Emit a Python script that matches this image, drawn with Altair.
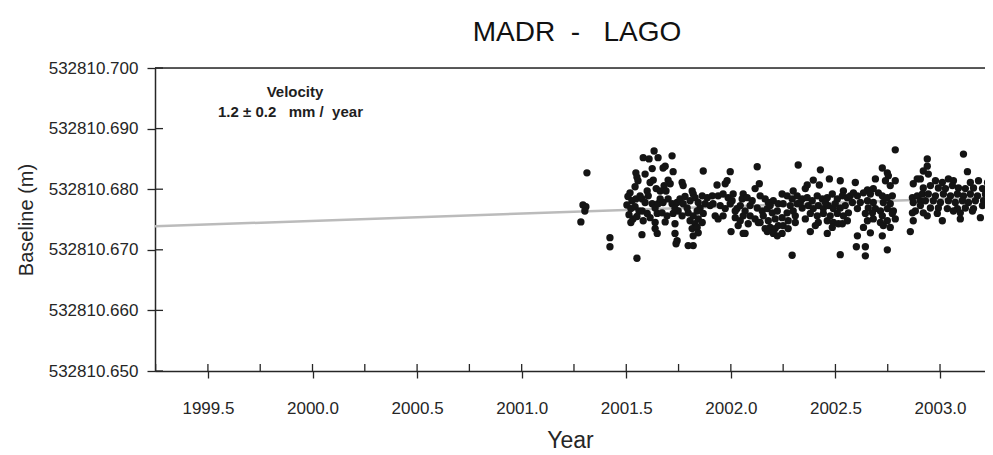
import altair as alt
import pandas as pd

# ---------------- data ----------------
# observation epochs (decimal year)
YEAR = [
    # isolated early points
    2001.312, 2001.293, 2001.307, 2001.302, 2001.283, 2001.422, 2001.422, 2001.551,
    # 2001.5 - 2001.57
    2001.546, 2001.551, 2001.556, 2001.542, 2001.518, 2001.508, 2001.527, 2001.546, 2001.566,
    2001.503, 2001.522, 2001.542, 2001.561, 2001.513, 2001.532, 2001.551, 2001.522, 2001.575,
    # 2001.57 - 2001.90
    2001.633, 2001.652, 2001.719, 2001.581, 2001.609, 2001.676, 2001.686, 2001.724, 2001.868, 2001.624,
    2001.590, 2001.629, 2001.614, 2001.700, 2001.710, 2001.767, 2001.772, 2001.815, 2001.820, 2001.681,
    2001.662, 2001.600, 2001.576, 2001.590, 2001.624, 2001.638, 2001.652, 2001.676, 2001.700, 2001.719,
    2001.743, 2001.757, 2001.772, 2001.791, 2001.805, 2001.829, 2001.863, 2001.887, 2001.877, 2001.853,
    2001.839, 2001.576, 2001.600, 2001.614, 2001.648, 2001.671, 2001.695, 2001.724, 2001.748, 2001.767,
    2001.796, 2001.820, 2001.844, 2001.868, 2001.581, 2001.638, 2001.686, 2001.733, 2001.805, 2001.829,
    2001.863, 2001.815, 2001.839, 2001.844, 2001.820, 2001.648, 2001.638, 2001.733, 2001.743, 2001.738,
    2001.796, 2001.820, 2001.605, 2001.662, 2001.733, 2001.781, 2001.844, 2001.901, 2001.690, 2001.643,
    # 2001.90 - 2002.23
    2001.997, 2002.126, 2001.934, 2001.973, 2001.982, 2002.136, 2002.116, 2001.911, 2001.939, 2001.963,
    2001.987, 2002.011, 2002.006, 2002.059, 2002.054, 2002.078, 2002.140, 2002.164, 2002.179, 2002.203,
    2002.227, 2001.915, 2001.949, 2001.973, 2001.997, 2002.030, 2002.045, 2002.068, 2002.092, 2002.126,
    2002.150, 2002.174, 2002.198, 2002.222, 2001.925, 2001.939, 2001.963, 2002.021, 2002.045, 2002.059,
    2002.092, 2002.116, 2002.131, 2002.155, 2002.179, 2002.212, 2002.035, 2002.083, 2002.164, 2002.188,
    2002.212, 2002.227, 2002.001, 2002.059, 2002.203, 2002.102, 2002.021, 2002.188, 2002.140, 2002.174,
    2002.222, 2002.068,
    # 2002.24 - 2002.57
    2002.322, 2002.428, 2002.394, 2002.423, 2002.471, 2002.523, 2002.365, 2002.356, 2002.538, 2002.298,
    2002.245, 2002.269, 2002.293, 2002.317, 2002.341, 2002.365, 2002.413, 2002.437, 2002.461, 2002.485,
    2002.509, 2002.533, 2002.557, 2002.250, 2002.284, 2002.317, 2002.341, 2002.370, 2002.394, 2002.418,
    2002.442, 2002.466, 2002.490, 2002.523, 2002.547, 2002.269, 2002.298, 2002.380, 2002.413, 2002.442,
    2002.475, 2002.509, 2002.538, 2002.562, 2002.245, 2002.274, 2002.418, 2002.461, 2002.490, 2002.514,
    2002.557, 2002.250, 2002.308, 2002.404, 2002.485, 2002.533, 2002.380, 2002.461, 2002.274, 2002.245,
    2002.293, 2002.523, 2002.332, 2002.389, 2002.452, 2002.499, 2002.308, 2002.356,
    # 2002.57 - 2002.91
    2002.786, 2002.724, 2002.748, 2002.753, 2002.691, 2002.739, 2002.786, 2002.595, 2002.762, 2002.872,
    2002.891, 2002.653, 2002.681, 2002.634, 2002.667, 2002.571, 2002.586, 2002.605, 2002.705, 2002.724,
    2002.748, 2002.772, 2002.868, 2002.891, 2002.581, 2002.619, 2002.653, 2002.681, 2002.729, 2002.762,
    2002.872, 2002.906, 2002.605, 2002.657, 2002.691, 2002.715, 2002.748, 2002.777, 2002.882, 2002.643,
    2002.677, 2002.724, 2002.772, 2002.868, 2002.653, 2002.681, 2002.715, 2002.748, 2002.786, 2002.872,
    2002.634, 2002.729, 2002.762, 2002.858, 2002.605, 2002.667, 2002.724, 2002.600, 2002.643, 2002.643,
    2002.748,
    # 2002.91 - 2003.25
    2003.112, 2002.939, 2002.939, 2002.920, 2002.944, 2003.131, 2002.906, 2002.978, 2003.011, 2003.040,
    2003.064, 2003.145, 2003.184, 2003.227, 2002.920, 2002.954, 2002.992, 2003.026, 2003.059, 2003.088,
    2003.121, 2003.160, 2003.203, 2003.241, 2002.916, 2002.944, 2002.978, 2003.016, 2003.050, 2003.083,
    2003.112, 2003.145, 2003.179, 2003.217, 2002.930, 2002.968, 2003.002, 2003.040, 2003.073, 2003.107,
    2003.136, 2003.169, 2003.208, 2003.241, 2002.906, 2002.954, 2002.992, 2003.035, 2003.083, 2003.121,
    2003.160, 2003.203, 2002.939, 2002.987, 2003.064, 2003.097, 2003.155, 2002.920, 2003.011, 2003.097,
    2003.193,
]

# baseline length, millimetres above 532810 m
BASELINE_MM = [
    682.7, 677.4, 677.1, 676.4, 674.6, 672.0, 670.5, 668.6,
    682.7, 682.0, 681.4, 680.4, 679.4, 678.8, 678.1, 678.4, 678.9,
    677.4, 676.8, 677.1, 676.4, 675.8, 675.1, 675.5, 674.5, 672.5,
    686.3, 685.2, 685.5, 685.2, 685.0, 683.5, 683.8, 682.9, 683.0, 683.4,
    682.5, 681.5, 681.1, 681.5, 680.9, 681.1, 680.6, 679.7, 679.2, 680.6,
    679.7, 679.7, 678.4, 677.8, 677.6, 676.9, 677.6, 677.8, 678.4, 677.6,
    677.8, 678.4, 677.6, 676.9, 678.1, 678.6, 678.9, 678.6, 677.6, 676.9,
    676.4, 676.4, 676.0, 675.3, 676.0, 676.1, 675.6, 676.0, 676.4, 675.6,
    676.1, 675.6, 675.1, 676.0, 674.8, 674.5, 674.6, 674.3, 674.8, 674.3,
    674.5, 673.5, 673.7, 672.8, 672.3, 672.7, 673.5, 672.7, 671.5, 671.0,
    670.7, 670.7, 678.9, 678.4, 676.8, 678.8, 677.8, 677.3, 679.7, 680.1,
    682.9, 683.7, 680.7, 680.9, 681.4, 680.9, 680.1, 678.9, 678.9, 679.2,
    678.6, 679.2, 678.1, 679.2, 678.4, 678.6, 678.9, 678.4, 677.8, 678.1,
    677.6, 677.6, 677.3, 676.8, 677.6, 676.8, 677.3, 676.4, 677.3, 676.9,
    676.4, 676.8, 676.1, 676.4, 675.6, 675.1, 675.6, 675.3, 674.8, 675.6,
    675.6, 675.1, 674.5, 675.6, 674.8, 675.1, 674.0, 674.3, 673.5, 673.7,
    673.5, 674.0, 673.0, 672.7, 672.7, 678.1, 676.4, 677.3, 674.5, 673.0,
    672.3, 672.7,
    684.0, 683.2, 681.5, 680.7, 681.7, 681.4, 680.7, 680.1, 679.7, 679.7,
    679.2, 678.9, 678.4, 678.9, 678.4, 678.6, 678.9, 678.4, 678.6, 679.2,
    678.4, 678.9, 678.6, 677.6, 677.3, 677.6, 676.9, 677.3, 676.8, 677.3,
    676.8, 677.3, 676.8, 676.9, 677.3, 676.1, 676.4, 676.0, 675.6, 676.0,
    675.6, 676.0, 675.6, 676.1, 675.3, 674.8, 674.5, 674.8, 674.5, 674.3,
    674.8, 674.0, 674.5, 674.0, 673.7, 674.3, 673.0, 672.7, 673.5, 672.7,
    669.1, 669.2, 677.8, 678.1, 677.8, 677.6, 675.6, 675.1,
    686.5, 683.5, 682.7, 682.2, 681.7, 681.4, 681.4, 681.1, 680.6, 680.9,
    681.7, 679.9, 680.1, 679.4, 679.2, 678.9, 679.4, 678.9, 679.4, 678.9,
    678.6, 678.9, 678.6, 678.9, 677.8, 677.8, 678.1, 677.8, 677.8, 677.6,
    677.8, 678.1, 676.8, 676.9, 676.8, 676.4, 676.8, 676.4, 676.4, 676.0,
    676.1, 675.6, 676.0, 676.1, 674.8, 675.1, 674.5, 674.8, 675.1, 674.8,
    673.7, 674.0, 673.7, 673.0, 672.3, 672.8, 672.3, 670.5, 670.5, 669.0,
    670.0,
    685.8, 685.0, 683.8, 683.0, 682.5, 682.9, 681.7, 681.4, 681.1, 681.7,
    681.4, 681.1, 681.4, 681.1, 680.2, 680.6, 680.2, 680.1, 680.6, 680.2,
    680.1, 680.2, 680.1, 680.2, 679.2, 679.2, 678.9, 679.2, 678.9, 679.2,
    678.9, 679.2, 678.9, 679.2, 678.1, 678.1, 677.8, 678.1, 677.8, 678.1,
    677.8, 678.1, 678.1, 677.8, 677.3, 676.9, 676.9, 676.8, 676.8, 676.9,
    676.8, 677.3, 675.6, 676.0, 676.4, 676.1, 676.4, 676.1, 674.8, 675.1,
    675.3,
]

# fitted trend line (end points), title and velocity annotation
TREND_YEAR = [1999.247, 2003.215]
TREND_MM = [673.87, 678.63]
TITLE = "MADR\u00a0\u00a0-\u00a0\u00a0\u00a0LAGO"
VELOCITY_LABEL = "Velocity"
VELOCITY_TEXT = "1.2 \u00b1 0.2\u00a0\u00a0\u00a0mm /\u00a0\u00a0year"

# axes
X_DOMAIN = [1999.247, 2003.215]
X_MAJOR = [1999.5, 2000.0, 2000.5, 2001.0, 2001.5, 2002.0, 2002.5, 2003.0]
X_MINOR = [1999.25, 1999.5, 1999.75, 2000.0, 2000.25, 2000.5, 2000.75, 2001.0, 2001.25,
           2001.5, 2001.75, 2002.0, 2002.25, 2002.5, 2002.75, 2003.0]
Y_TICKS = [532810.650, 532810.660, 532810.670, 532810.680, 532810.690, 532810.700]

BASE_M = 532810.0
FONT = "Liberation Sans"
INK = "#262626"

pts = pd.DataFrame({"Year": YEAR, "Baseline": [BASE_M + v / 1000.0 for v in BASELINE_MM]})
trend = pd.DataFrame({"Year": TREND_YEAR, "Baseline": [BASE_M + v / 1000.0 for v in TREND_MM]})
xt = pd.DataFrame({"Year": X_MINOR})
yt = pd.DataFrame({"Baseline": Y_TICKS})

W, H = 830, 303

x_scale = alt.Scale(domain=X_DOMAIN, nice=False, zero=False)
y_scale = alt.Scale(domain=[Y_TICKS[0], Y_TICKS[-1]], nice=False, zero=False)

x_axis = alt.Axis(values=X_MAJOR, format=".1f", tickSize=7, tickColor=INK, tickWidth=1.3,
                  domainColor=INK, domainWidth=1.5, labelFont=FONT, labelFontSize=17,
                  labelColor=INK, labelPadding=22, grid=False, labelFlush=False,
                  title="Year", titleFont=FONT, titleFontSize=23, titleFontWeight="normal",
                  titleColor=INK, titleBaseline="alphabetic", titleY=76)
y_axis = alt.Axis(values=Y_TICKS, format=".3f", tickSize=8, tickColor=INK, tickWidth=1.3,
                  domainColor=INK, domainWidth=1.5, labelFont=FONT, labelFontSize=17,
                  labelColor=INK, labelPadding=9, grid=False, labelFlush=False,
                  title="Baseline (m)", titleFont=FONT, titleFontSize=20,
                  titleFontWeight="normal", titleColor=INK, titleBaseline="alphabetic",
                  titleX=-123, titleY=H / 2, titleAngle=270, titleAlign="center")

X = alt.X("Year:Q", scale=x_scale, axis=x_axis)
Y = alt.Y("Baseline:Q", scale=y_scale, axis=y_axis)

line = alt.Chart(trend).mark_line(color="#bbbbbb", strokeWidth=2.5, clip=True).encode(x=X, y=Y)
dots = alt.Chart(pts).mark_circle(size=54, color="#141414", opacity=1, clip=True).encode(x=X, y=Y)

top_border = alt.Chart(yt).transform_filter(
    alt.datum.Baseline > Y_TICKS[-2]
).mark_rule(color=INK, strokeWidth=1.5).encode(y=Y)

x_inner = alt.Chart(xt).mark_rule(color=INK, strokeWidth=1.3).encode(
    x=X, y=alt.value(H), y2=alt.value(H - 7))
y_inner = alt.Chart(yt).mark_rule(color=INK, strokeWidth=1.3).encode(
    y=Y, x=alt.value(0), x2=alt.value(8))

title = alt.Chart(pd.DataFrame({"t": [TITLE]})).mark_text(
    font=FONT, fontSize=28, color="#111111", align="center", baseline="alphabetic"
).encode(text="t:N", x=alt.value(W / 2 + 7), y=alt.value(-27))

vel1 = alt.Chart(pd.DataFrame({"t": [VELOCITY_LABEL]})).mark_text(
    font=FONT, fontSize=15, fontWeight="bold", color="#1e1e1e", align="center", baseline="alphabetic"
).encode(text="t:N", x=alt.value(140), y=alt.value(29))
vel2 = alt.Chart(pd.DataFrame({"t": [VELOCITY_TEXT]})).mark_text(
    font=FONT, fontSize=15, fontWeight="bold", color="#1e1e1e", align="left", baseline="alphabetic"
).encode(text="t:N", x=alt.value(63), y=alt.value(49))

chart = alt.layer(line, dots, top_border, x_inner, y_inner, title, vel1, vel2).properties(
    width=W, height=H,
    autosize=alt.AutoSizeParams(type="none"),
    padding={"left": 147, "top": 60, "right": 0, "bottom": 84},
).configure_view(stroke=None).configure(background="white")

chart.save("out.html", embed_options={"renderer": "svg", "actions": False})
